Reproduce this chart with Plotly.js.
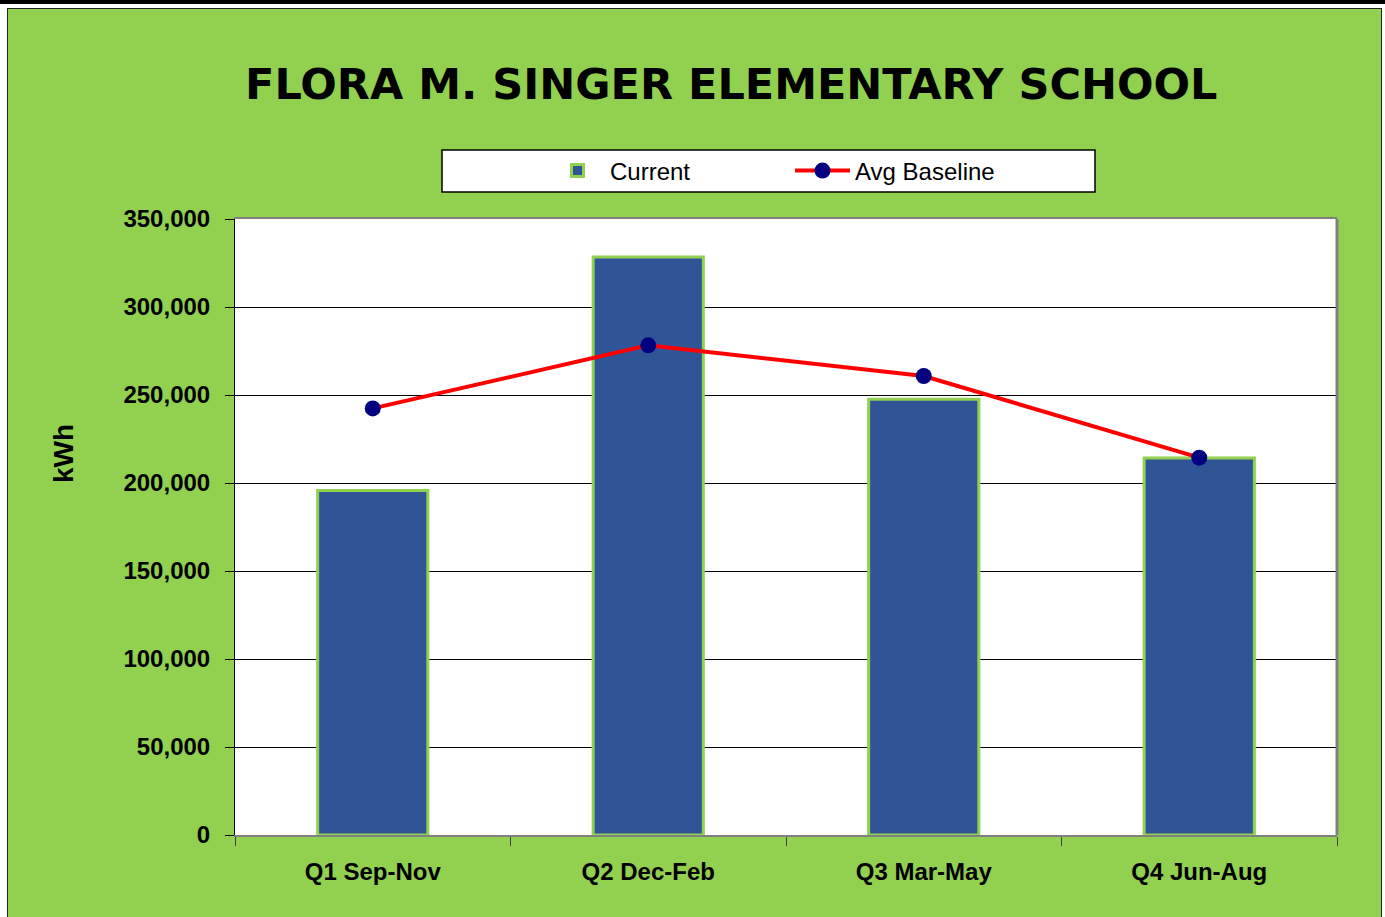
<!DOCTYPE html>
<html>
<head>
<meta charset="utf-8">
<script src="https://cdn.plot.ly/plotly-3.0.1.min.js"></script>
<style>
  html, body { margin: 0; padding: 0; background: #ffffff; width: 1385px; height: 917px; overflow: hidden; }
  #topbar { position: absolute; left: 0; top: 0; width: 1385px; height: 4px; background: #000000; }
  #frame { position: absolute; left: 7px; top: 8px; width: 1373px; height: 915px; background: #92D050; border: 1px solid #222222; }
  #chart { position: absolute; left: 0; top: 0; width: 1385px; height: 917px; }
</style>
</head>
<body>
<div id="topbar"></div>
<div id="frame"></div>
<div id="chart"></div>
<script>
const categories = ["Q1 Sep-Nov", "Q2 Dec-Feb", "Q3 Mar-May", "Q4 Jun-Aug"];
const currentValues = [195700, 328400, 247600, 214200];
const baselineValues = [242400, 278200, 260800, 214400];
const yTickValues = [0, 50000, 100000, 150000, 200000, 250000, 300000, 350000];
const yTickLabels = ["0", "50,000", "100,000", "150,000", "200,000", "250,000", "300,000", "350,000"];

const narrow = "'Liberation Sans Narrow', 'Arial Narrow', 'Liberation Sans', Arial, sans-serif";
const arial = "'Liberation Sans', Arial, sans-serif";

const traces = [
  {
    type: "bar",
    name: "Current",
    x: categories,
    y: currentValues,
    marker: { color: "#2F5597", line: { color: "#92D050", width: 3 } },
    hoverinfo: "x+y"
  },
  {
    type: "scatter",
    mode: "lines+markers",
    name: "Avg Baseline",
    x: categories,
    y: baselineValues,
    line: { color: "#FF0000", width: 4 },
    marker: { color: "#000080", size: 16 },
    hoverinfo: "x+y"
  }
];

const layout = {
  width: 1385,
  height: 917,
  paper_bgcolor: "rgba(0,0,0,0)",
  plot_bgcolor: "#FFFFFF",
  margin: { l: 235, r: 48, t: 219, b: 82, pad: 0 },
  bargap: 0.6,
  showlegend: true,
  title: {
    text: "FLORA M. SINGER ELEMENTARY SCHOOL",
    font: { family: "'DejaVu Sans', sans-serif", size: 43, color: "#000000", weight: "bold" },
    xref: "container", yref: "container",
    x: 0.528, xanchor: "center",
    y: 1 - 84 / 917, yanchor: "middle"
  },
  legend: {
    orientation: "h",
    xref: "container", yref: "container",
    x: 545 / 1385, xanchor: "left",
    y: 1 - 171 / 917, yanchor: "middle",
    bgcolor: "rgba(0,0,0,0)",
    borderwidth: 0,
    font: { family: arial, size: 24, color: "#000000" },
    entrywidth: 175,
    entrywidthmode: "pixels",
    itemwidth: 55,
    traceorder: "normal"
  },
  xaxis: {
    type: "category",
    categoryorder: "array",
    categoryarray: categories,
    showgrid: false,
    showline: true,
    linecolor: "#808080",
    linewidth: 2,
    mirror: true,
    ticks: "outside",
    tickson: "boundaries",
    ticklen: 9,
    tickcolor: "#404040",
    tickwidth: 1,
    ticklabelstandoff: 14,
    tickfont: { family: narrow, size: 24, color: "#000000", weight: "bold" },
    fixedrange: true
  },
  yaxis: {
    range: [0, 350000],
    tickvals: yTickValues,
    ticktext: yTickLabels,
    showgrid: true,
    gridcolor: "#000000",
    gridwidth: 1,
    zeroline: false,
    showline: true,
    linecolor: "#000000",
    linewidth: 1,
    ticks: "outside",
    ticklen: 9,
    tickcolor: "#000000",
    tickwidth: 1,
    ticklabelstandoff: 10,
    tickfont: { family: narrow, size: 24, color: "#000000", weight: "bold" },
    fixedrange: true
  },
  shapes: [
    {
      type: "rect", xref: "paper", yref: "paper", layer: "below",
      x0: (442 - 235) / 1102, x1: (1095 - 235) / 1102,
      y0: (835 - 192) / 616, y1: (835 - 150) / 616,
      fillcolor: "#FFFFFF", line: { color: "#000000", width: 1.5 }
    },
    {
      type: "line", xref: "paper", yref: "paper", layer: "above",
      x0: 1, x1: 1, y0: 0, y1: 1,
      line: { color: "#808080", width: 3 }
    }
  ],
  annotations: [
    {
      text: "kWh",
      xref: "paper", yref: "paper",
      x: (63 - 235) / 1102, y: (835 - 454) / 616,
      xanchor: "center", yanchor: "middle",
      textangle: -90,
      showarrow: false,
      font: { family: arial, size: 28, color: "#000000", weight: "bold" }
    }
  ]
};

Plotly.newPlot("chart", traces, layout, { displayModeBar: false, staticPlot: true });
</script>
</body>
</html>
